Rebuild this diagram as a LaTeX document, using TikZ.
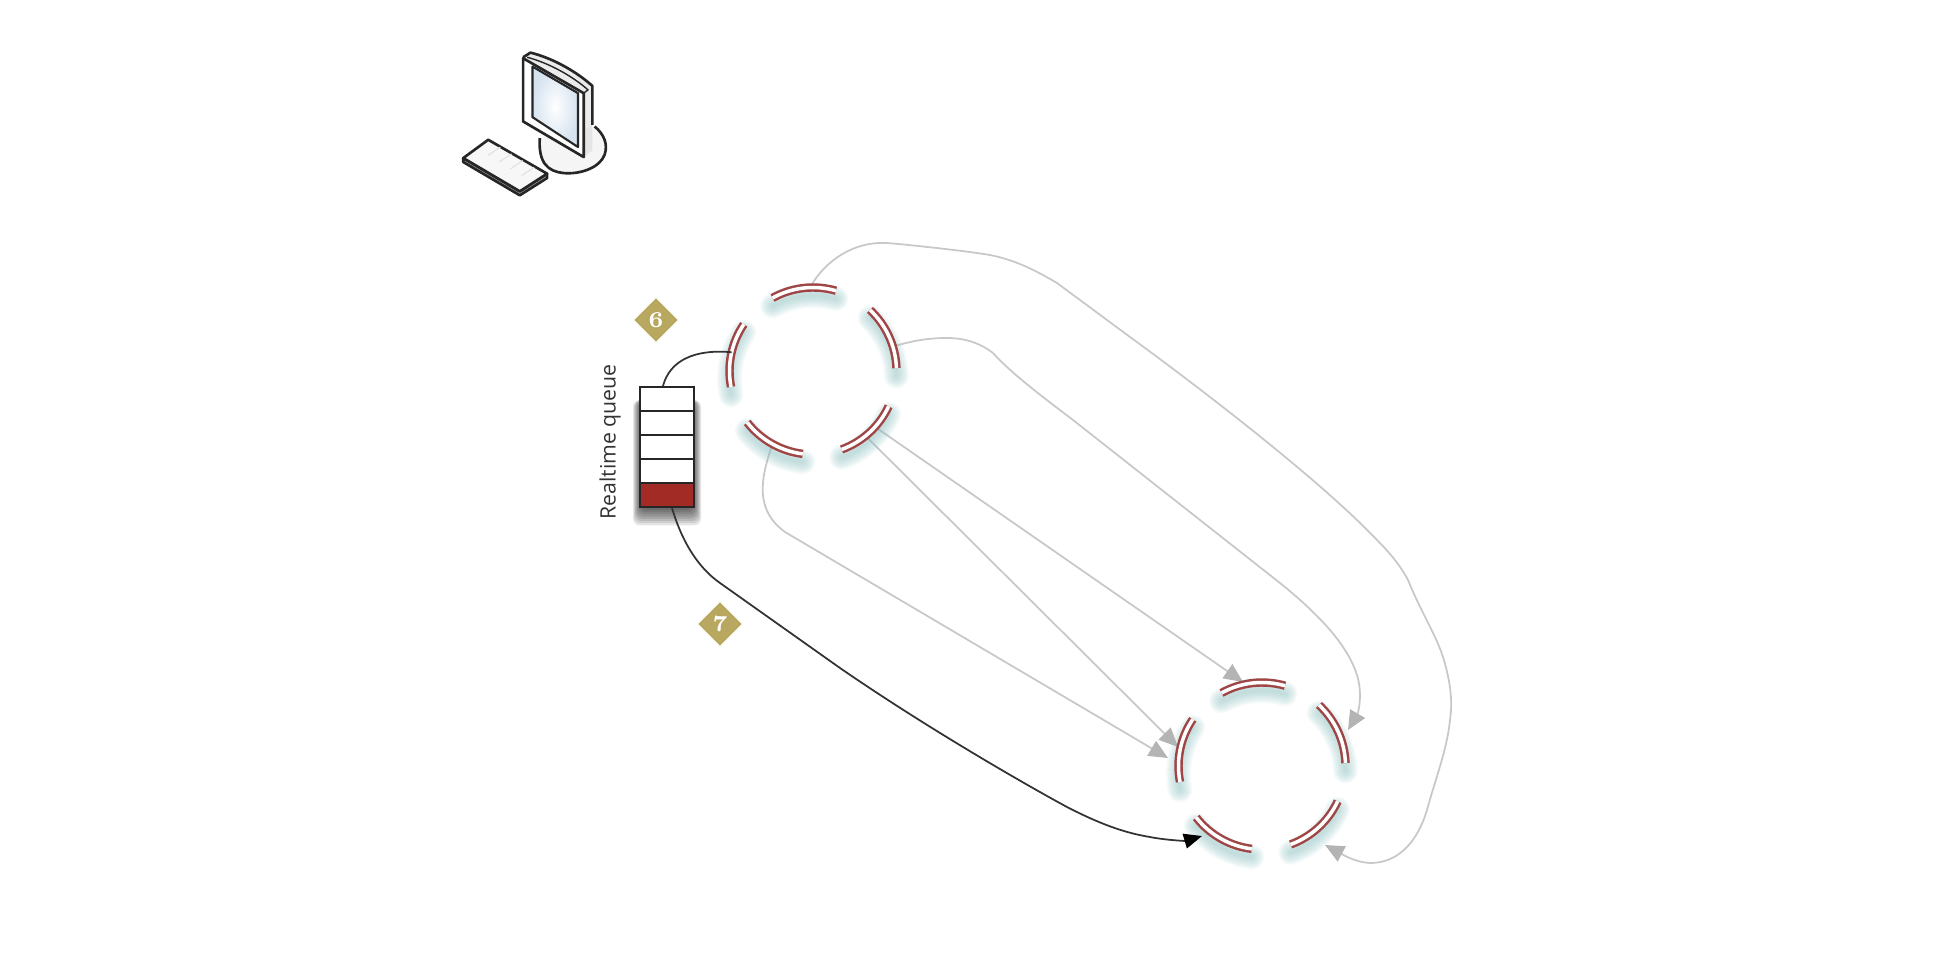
\documentclass[tikz,border=0pt]{standalone}
\usepackage{fontspec}
\usepackage{tikz}
\newfontfamily\lablfont{Open Sans}
\usetikzlibrary{arrows.meta}
\usetikzlibrary{calc}
\usetikzlibrary{shapes.geometric}
\definecolor{ringred}{HTML}{A04545}
\definecolor{glowteal}{HTML}{8FC0C0}
\definecolor{queuered}{HTML}{A32B26}
\definecolor{markgold}{HTML}{B8A85F}
\definecolor{linegray}{HTML}{C8C8C8}
\definecolor{tipgray}{HTML}{B4B4B4}
\definecolor{darkline}{HTML}{333333}
\definecolor{screenblue}{HTML}{D5E2F0}
\def\ringarcs#1{
  \foreach \a in {2,74,146,218,290}{
    \foreach \w in {1,2,...,7}
      \draw[glow,line width=\w pt] ([yshift=-.08cm]#1.\a) arc[start angle=\a,delta angle=45,radius=.835cm];
    \draw[ringarc] (#1.\a) arc[start angle=\a,delta angle=45,radius=.835cm];
  }
}
\tikzset{
	ringc/.style={circle,inner sep=0pt,outer sep=0pt,minimum size=1.67cm},
	ringarc/.style={ringred,line width=.7pt,double=white,double distance=1pt},
	glow/.style={glowteal,opacity=.1,line cap=round},
	qcell/.style={rectangle,draw=black!85,fill=white,line width=.6pt,inner sep=0pt,minimum width=.54cm,minimum height=.24cm},
	qshadow/.style={black,opacity=.1,rounded corners=2pt},
	marker/.style={diamond,fill=markgold,text=white,inner sep=0pt,minimum size=.44cm,font=\bfseries\fontsize{6.5pt}{6.5pt}\selectfont},
	labl/.style={rotate=90,text=darkline,inner sep=0pt,font=\lablfont\fontsize{6.05pt}{7pt}\selectfont},
	kernel/.style={darkline,line width=.5pt,-{Triangle[length=.18cm,width=.15cm,black]}},
	plainline/.style={darkline,line width=.5pt},
	kgray/.style={linegray,line width=.5pt,-{Triangle[length=.19cm,width=.17cm,tipgray]}},
	icon/.style={draw=black!85,line width=.75pt,line join=round},
}
\begin{document}
\begin{tikzpicture}
\useasboundingbox (0,-9.64) rectangle (19.48,0);

% computer
\begin{scope}[shift={(4.4,-.3)},x=.003333cm,y=-.003333cm]
 \draw[icon,fill=black!4] (465,290) .. controls (495,315) and (505,345) .. (495,375) .. controls (480,415) and (420,435) .. (370,430) .. controls (325,425) and (295,400) .. (300,325);
 \fill[black!10] (432,300) -- (458,285) -- (458,362) -- (432,382) -- cycle;
 \fill[black!8] (250,82) -- (272,68) .. controls (340,85) and (410,125) .. (458,168) -- (458,285) -- (432,300) -- (250,200) -- cycle;
 \draw[icon] (432,382) -- (432,300);
 \draw[icon] (250,82) -- (272,68) .. controls (340,85) and (410,125) .. (458,168) -- (458,285);
 \draw[icon,fill=white] (250,85) -- (432,190) -- (432,382) -- (250,275) -- cycle;
 \draw[icon,line width=.4pt] (262,82) .. controls (330,100) and (400,140) .. (445,180) -- (432,190);
 \draw[icon,inner color=white,outer color=screenblue,line width=.6pt] (278,110) -- (415,190) -- (415,352) -- (278,262) -- cycle;
 \draw[icon,fill=black!30] (70,385) -- (240,485) -- (322,432) -- (322,445) -- (240,497) -- (70,397) -- cycle;
 \draw[icon,fill=black!3] (145,330) -- (322,432) -- (240,485) -- (70,385) -- cycle;
 \foreach \t in {.2,.4,.6,.8}
  \draw[black!12,line width=.3pt] ($(110,357)!\t!(280,458)$) -- ++(37,-25);
\end{scope}

% queue
\foreach \e in {0,.01,...,.07}
 \fill[qshadow] ({6.4-\e},-4.0) rectangle ({6.94+\e},{-5.1-2.2*\e});
\foreach \i in {1,...,5}
 \node[qcell] (q\i) at (6.67,{-3.75-.24*\i}) {};
\node[qcell,fill=queuered] (q5) at (6.67,-4.95) {};
\node[labl] (qlabel) at (6.1,-4.42) {Realtime queue};

% markers
\node[marker] (m6) at (6.56,-3.2) {6};
\node[marker] (m7) at (7.2,-6.24) {7};

% rings
\node[ringc] (r1) at (8.13,-3.71) {};
\node[ringc] (r2) at (12.62,-7.66) {};
\coordinate (tipk) at (12.02,-8.36);
\coordinate (tipa) at (13.25,-8.45);
\coordinate (tipb) at (13.48,-7.3);
\coordinate (tipc) at (12.43,-6.82);
\coordinate (tipd) at (11.78,-7.47);
\coordinate (tipe) at (11.68,-7.58);

% connectors
\draw[kgray] (r1.92) .. controls (8.25,-2.6) and (8.55,-2.41) .. (8.87,-2.43) .. controls (9.0,-2.44) and (9.6,-2.5) .. (9.9,-2.55) .. controls (10.15,-2.6) and (10.35,-2.7) .. (10.57,-2.83) -- (11.3,-3.37) .. controls (12.0,-3.88) and (13.2,-4.8) .. (13.77,-5.4) .. controls (13.9,-5.53) and (14.0,-5.65) .. (14.08,-5.8) .. controls (14.2,-6.1) and (14.36,-6.35) .. (14.43,-6.57) .. controls (14.5,-6.8) and (14.53,-7.0) .. (14.5,-7.2) .. controls (14.47,-7.5) and (14.35,-7.8) .. (14.27,-8.1) .. controls (14.18,-8.4) and (14.0,-8.62) .. (13.72,-8.63) .. controls (13.55,-8.63) and (13.4,-8.53) .. (tipa);
\draw[kgray] (r1.17) .. controls (9.15,-3.4) and (9.3,-3.38) .. (9.47,-3.38) .. controls (9.65,-3.38) and (9.8,-3.43) .. (9.93,-3.53) .. controls (10.1,-3.72) and (10.4,-3.95) .. (10.73,-4.2) -- (12.8,-5.83) .. controls (13.05,-6.03) and (13.3,-6.27) .. (13.43,-6.47) .. controls (13.55,-6.65) and (13.6,-6.8) .. (13.6,-6.95) .. controls (13.6,-7.05) and (13.58,-7.13) .. (tipb);
\draw[kgray] (r1.-42) -- (tipc);
\draw[kgray] (r1.-51) -- (tipd);
\draw[kgray] (r1.-119) .. controls (7.6,-4.8) and (7.55,-5.1) .. (7.85,-5.32) -- (tipe);

\ringarcs{r1}
\ringarcs{r2}

\draw[plainline] ([xshift=-.04cm]q1.north) .. controls (6.7,-3.6) and (6.95,-3.49) .. (r1.167);
\draw[kernel] ([xshift=.05cm]q5.south) .. controls (6.83,-5.45) and (7.0,-5.69) .. (7.2,-5.83) -- (8.4,-6.68) .. controls (9.3,-7.3) and (10.3,-7.87) .. (10.67,-8.07) .. controls (11.0,-8.24) and (11.25,-8.33) .. (11.5,-8.37) .. controls (11.65,-8.4) and (11.85,-8.41) .. (tipk);
\end{tikzpicture}
\end{document}
